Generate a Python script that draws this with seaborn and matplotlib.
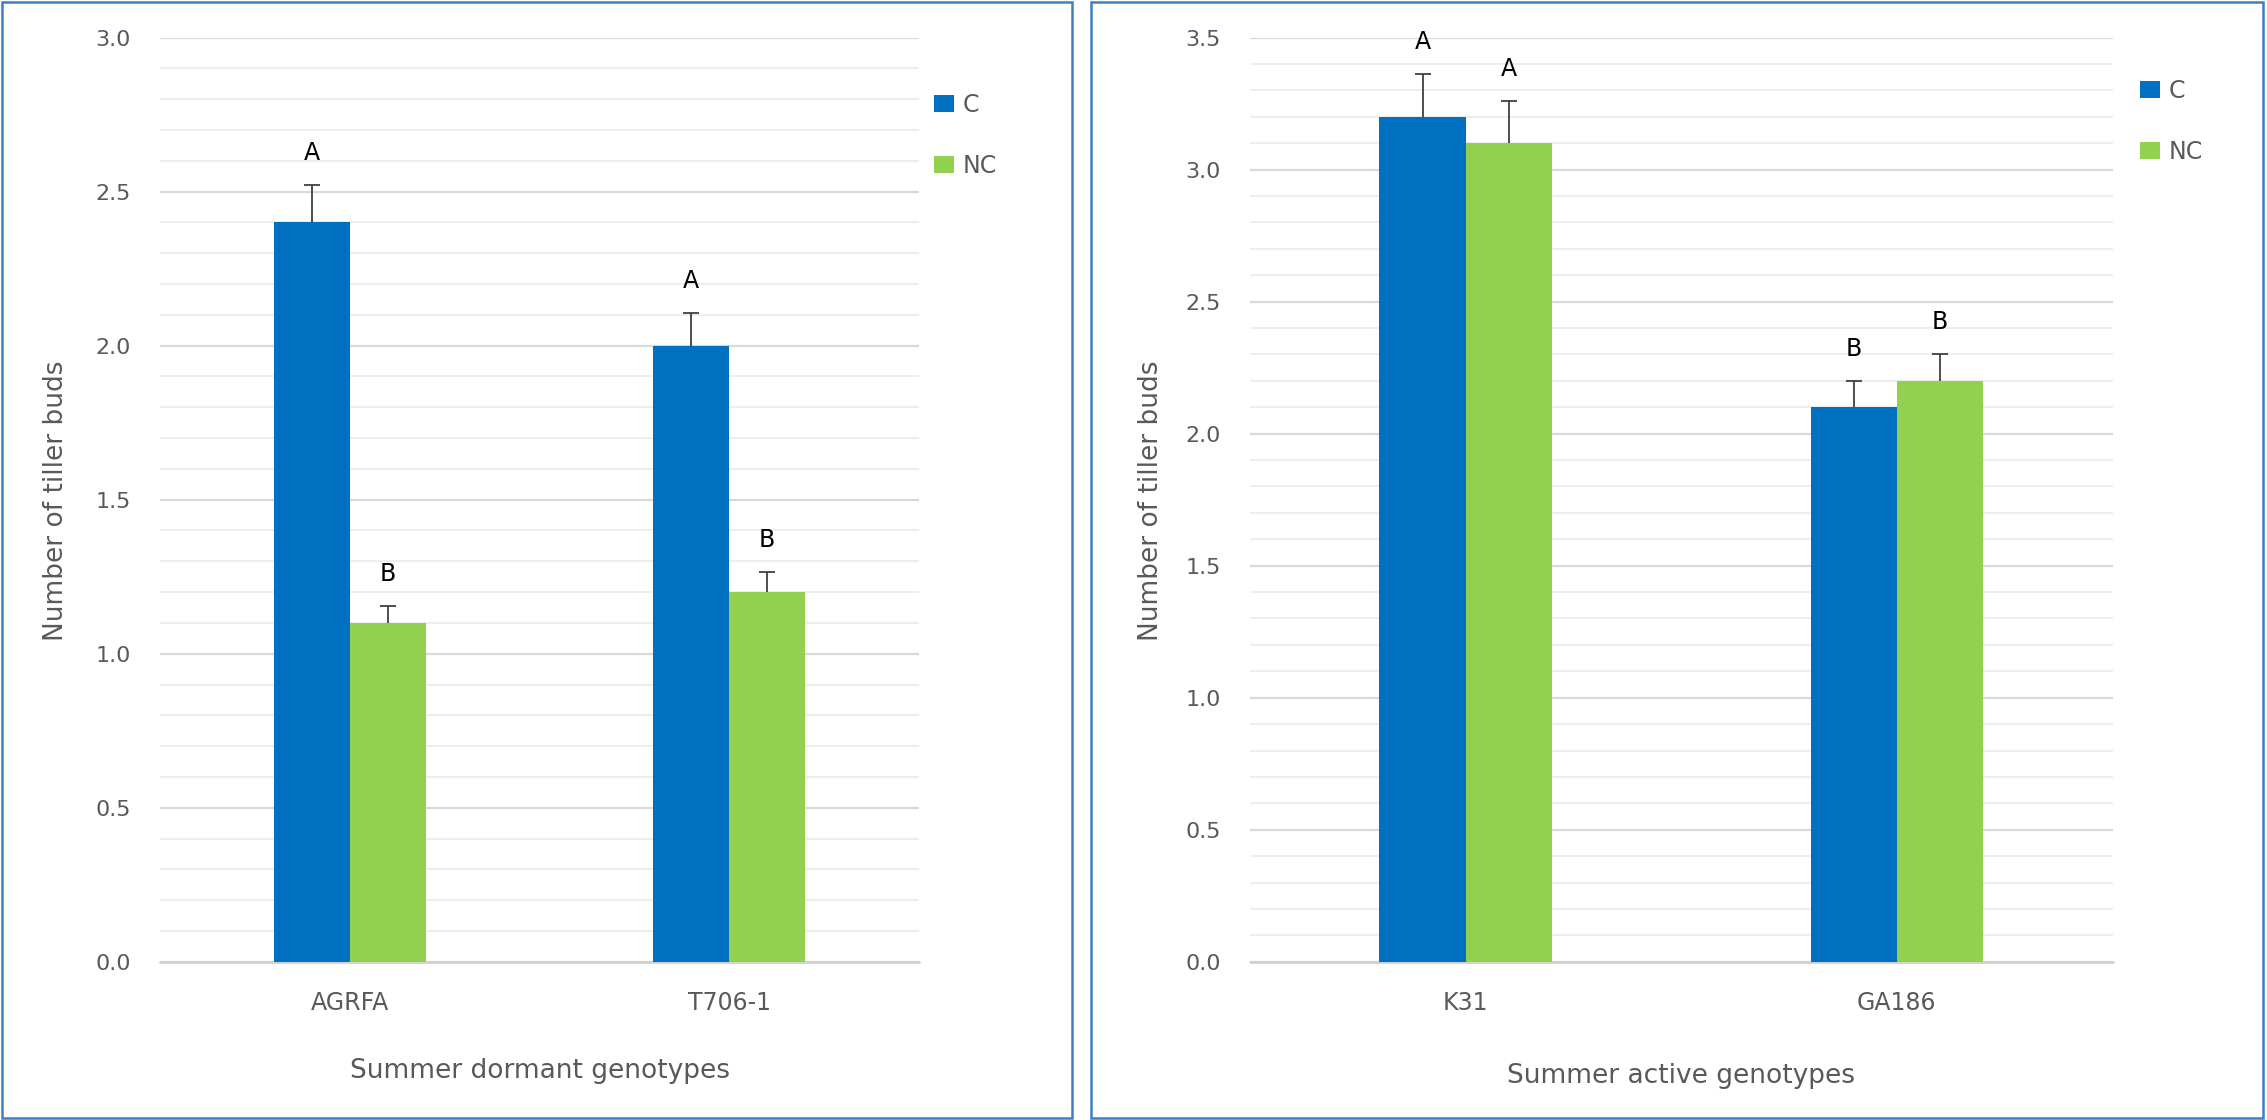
import numpy as np
import pandas as pd
import matplotlib
matplotlib.use("Agg")
import matplotlib.pyplot as plt
from matplotlib.patches import Rectangle, Patch
from matplotlib.ticker import MultipleLocator, FormatStrFormatter
import seaborn as sns

# ---------------- data ----------------
treatments = ["C", "NC"]

dormant_genotypes = ["AGRFA", "T706-1"]
dormant_C = [2.4, 2.0]
dormant_NC = [1.1, 1.2]
dormant_C_err = [0.12, 0.105]
dormant_NC_err = [0.055, 0.065]
dormant_C_letters = ["A", "A"]
dormant_NC_letters = ["B", "B"]

active_genotypes = ["K31", "GA186"]
active_C = [3.2, 2.1]
active_NC = [3.1, 2.2]
active_C_err = [0.16, 0.10]
active_NC_err = [0.16, 0.10]
active_C_letters = ["A", "B"]
active_NC_letters = ["A", "B"]

left_xlabel = "Summer dormant genotypes"
right_xlabel = "Summer active genotypes"
ylabel = "Number of tiller buds"

# ---------------- style ----------------
sns.set_theme(style="white")
plt.rcParams["font.family"] = ["DejaVu Sans"]

W, H = 2267, 1120
DPI = 100
colors = {"C": "#0070C0", "NC": "#92D050"}
text_gray = "#595959"
border_col = "#3F7FC3"

fig = plt.figure(figsize=(W / DPI, H / DPI), dpi=DPI)
fig.patch.set_facecolor("white")


def px_axes(x0, y0, x1, y1):
    return fig.add_axes([x0 / W, 1 - y1 / H, (x1 - x0) / W, (y1 - y0) / H])


def draw_panel(ax, genotypes, c_vals, nc_vals, c_err, nc_err, c_let, nc_let,
               ymax, xlabel_text, ylab_x, xlab_y, leg_anchor):
    df = pd.DataFrame({
        "Genotype": genotypes * 2,
        "Treatment": ["C"] * len(genotypes) + ["NC"] * len(genotypes),
        "Value": list(c_vals) + list(nc_vals),
    })
    sns.barplot(data=df, x="Genotype", y="Value", hue="Treatment",
                hue_order=treatments, order=genotypes, palette=colors,
                width=0.4, saturation=1, errorbar=None, ax=ax,
                edgecolor="none", linewidth=0, legend=False, zorder=2)

    errs = {"C": c_err, "NC": nc_err}
    lets = {"C": c_let, "NC": nc_let}
    vals = {"C": c_vals, "NC": nc_vals}
    for cont, tr in zip(ax.containers, treatments):
        for i, bar in enumerate(cont):
            xc = bar.get_x() + bar.get_width() / 2
            top = vals[tr][i]
            e = errs[tr][i]
            line, caps, bars = ax.errorbar([xc], [top], yerr=[[0], [e]],
                                           fmt="none", ecolor="#404040",
                                           elinewidth=1.3, capsize=5.8,
                                           capthick=1.3, zorder=3)
            caps[0].set_visible(False)
            ax.annotate(lets[tr][i], (xc, top + e), xytext=(0, 32),
                        textcoords="offset pixels", ha="center", va="center",
                        fontsize=17, color="black")

    ax.set_ylim(0, ymax)
    ax.set_xlim(-0.5, len(genotypes) - 0.5)
    ax.yaxis.set_major_locator(MultipleLocator(0.5))
    ax.yaxis.set_minor_locator(MultipleLocator(0.1))
    ax.yaxis.set_major_formatter(FormatStrFormatter("%.1f"))
    ax.grid(axis="y", which="major", color="#D9D9D9", linewidth=1.6, zorder=0)
    ax.grid(axis="y", which="minor", color="#EEEEEE", linewidth=1.5, zorder=0)
    ax.axhline(0, color="#D0D0D0", linewidth=2.0, zorder=1, clip_on=False)
    ax.set_axisbelow(True)
    for s in ax.spines.values():
        s.set_visible(False)
    ax.tick_params(axis="y", which="both", length=0, pad=21,
                   labelsize=16, labelcolor=text_gray)
    ax.tick_params(axis="x", length=0, pad=21, labelsize=17,
                   labelcolor=text_gray)
    ax.set_xlabel(xlabel_text, fontsize=19, color=text_gray, va="center")
    ax.set_ylabel(ylabel, fontsize=19, color=text_gray, va="center")
    ax.xaxis.set_label_coords(0.5, xlab_y)
    ax.yaxis.set_label_coords(ylab_x, 0.4985)

    handles = [Patch(facecolor=colors[t], edgecolor="none") for t in treatments]
    leg = ax.legend(handles, treatments, loc="upper left",
                    bbox_to_anchor=leg_anchor,
                    bbox_transform=fig.transFigure, frameon=False,
                    fontsize=17, handlelength=0.85, handleheight=0.72,
                    handletextpad=0.35, labelspacing=1.55, borderpad=0,
                    borderaxespad=0)
    for t in leg.get_texts():
        t.set_color(text_gray)


# Left panel
axL = px_axes(160, 37.5, 919, 961.8)
draw_panel(axL, dormant_genotypes, dormant_C, dormant_NC, dormant_C_err,
           dormant_NC_err, dormant_C_letters, dormant_NC_letters, 3.0,
           left_xlabel, (56 - 160) / 759, -(1070.7 - 961.8) / 924.3,
           (934 / W, 1 - 93 / H))

# Right panel
axR = px_axes(1250, 37.5, 2112.5, 961.8)
draw_panel(axR, active_genotypes, active_C, active_NC, active_C_err,
           active_NC_err, active_C_letters, active_NC_letters, 3.5,
           right_xlabel, (1151 - 1250) / 862.5, -(1076 - 961.8) / 924.3,
           (2140 / W, 1 - 79 / H))

# Panel borders
for x0, x1 in [(2, 1072), (1091, 2263)]:
    fig.add_artist(Rectangle((x0 / W, 1 - 1118 / H), (x1 - x0) / W,
                             (1118 - 2) / H, transform=fig.transFigure,
                             fill=False, edgecolor=border_col, linewidth=1.8))

fig.savefig("out.png", dpi=DPI, facecolor="white")
